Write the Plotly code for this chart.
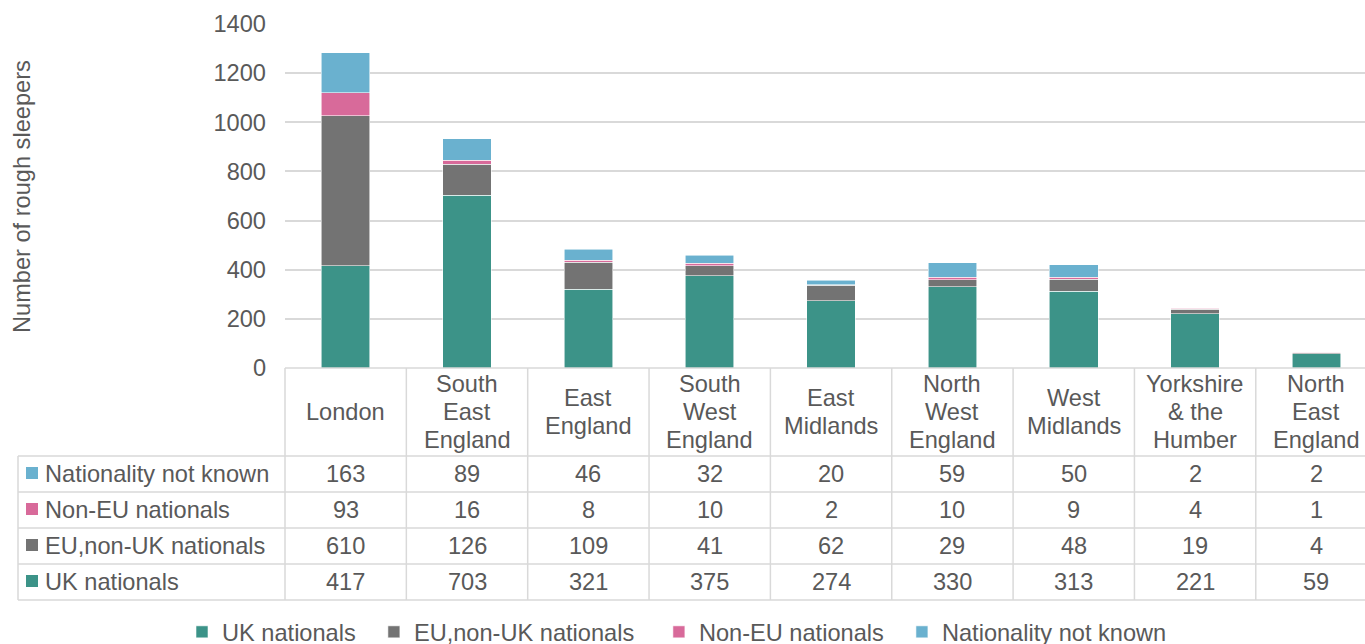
import plotly.graph_objects as go

# ---------------- data ----------------
regions = ["London", "South<br>East<br>England", "East<br>England", "South<br>West<br>England",
           "East<br>Midlands", "North<br>West<br>England", "West<br>Midlands",
           "Yorkshire<br>& the<br>Humber", "North<br>East<br>England"]
uk_nationals = [417, 703, 321, 375, 274, 330, 313, 221, 59]
eu_non_uk = [610, 126, 109, 41, 62, 29, 48, 19, 4]
non_eu = [93, 16, 8, 10, 2, 10, 9, 4, 1]
not_known = [163, 89, 46, 32, 20, 59, 50, 2, 2]
series_names = ["UK nationals", "EU,non-UK nationals", "Non-EU nationals", "Nationality not known"]
y_ticks = [0, 200, 400, 600, 800, 1000, 1200, 1400]

series_values = [uk_nationals, eu_non_uk, non_eu, not_known]
colors = ["#3C9388", "#737373", "#D86A9A", "#6AB1CF"]

# ---------------- layout geometry ----------------
W, H = 1365, 644
MT, MB = 24, 0
PLOT_L, PLOT_B = 285, 368
X_RANGE = [-0.5, 8.4]
TEXT = "#595959"
GRID = "#D9D9D9"
FONT = "Liberation Sans, Arial, sans-serif"
FS = 23.6
LINE_H = 28


def fy(p):
    return (H - p) / (H - MT)


def fx(p):
    return p / W


def col_px(v):
    return PLOT_L + (v - X_RANGE[0]) / (X_RANGE[1] - X_RANGE[0]) * (W - PLOT_L)


fig = go.Figure()
idx = list(range(len(regions)))
pads = ["\u00a0\u00a0", "\u00a0\u00a0\u00a0", "\u00a0\u00a0", ""]
for name, vals, c, pad in zip(series_names, series_values, colors, pads):
    fig.add_trace(go.Bar(
        x=idx, y=vals, name=name + pad, width=0.4,
        marker=dict(color=c, line=dict(color="rgba(255,255,255,0.7)", width=0.8)),
    ))

shapes = []
annotations = []

# table geometry
header_top, header_bot = 368, 456
row_edges = [456, 492, 528, 564, 600]
left_edge = 18

# horizontal lines
shapes.append(dict(type="line", xref="paper", yref="paper", x0=fx(PLOT_L), x1=1,
                   y0=fy(header_top), y1=fy(header_top), line=dict(color=GRID, width=1.5)))
for r in row_edges:
    shapes.append(dict(type="line", xref="paper", yref="paper", x0=fx(left_edge), x1=1,
                       y0=fy(r), y1=fy(r), line=dict(color=GRID, width=1.5)))
# vertical lines
shapes.append(dict(type="line", xref="paper", yref="paper", x0=fx(left_edge), x1=fx(left_edge),
                   y0=fy(row_edges[0]), y1=fy(row_edges[-1]), line=dict(color=GRID, width=1.5)))
for k in range(len(regions) + 1):
    px = col_px(k - 0.5)
    if px > W:
        continue
    shapes.append(dict(type="line", xref="paper", yref="paper", x0=fx(px), x1=fx(px),
                       y0=fy(header_top), y1=fy(row_edges[-1]), line=dict(color=GRID, width=1.5)))

# header labels (one annotation per line for Excel-like line spacing)
hc = (header_top + header_bot) / 2
for i, reg in enumerate(regions):
    lines = reg.split("<br>")
    n = len(lines)
    for j, ln in enumerate(lines):
        cy = hc + (j - (n - 1) / 2) * LINE_H
        annotations.append(dict(x=i, xref="x", y=fy(cy), yref="paper",
                                text=ln, showarrow=False, xanchor="center", yanchor="middle",
                                font=dict(size=FS, color=TEXT, family=FONT)))

# rows (top to bottom: reversed series order)
order = list(range(len(series_names)))[::-1]
for ri, si in enumerate(order):
    top, bot = row_edges[ri], row_edges[ri + 1]
    cy = (top + bot) / 2
    shapes.append(dict(type="rect", xref="paper", yref="paper",
                       x0=fx(26), x1=fx(38), y0=fy(cy - 7), y1=fy(cy + 5),
                       fillcolor=colors[si], line=dict(width=0)))
    annotations.append(dict(x=fx(43), xref="paper", y=fy(cy), yref="paper",
                            text=series_names[si], showarrow=False, xanchor="left", yanchor="middle",
                            font=dict(size=FS, color=TEXT, family=FONT)))
    for i, v in enumerate(series_values[si]):
        annotations.append(dict(x=i, xref="x", y=fy(cy), yref="paper",
                                text=str(v), showarrow=False, xanchor="center", yanchor="middle",
                                font=dict(size=FS, color=TEXT, family=FONT)))

# y-axis title
annotations.append(dict(x=fx(22), xref="paper", y=fy(197), yref="paper",
                        text="Number of rough sleepers", textangle=-90, showarrow=False,
                        xanchor="center", yanchor="middle",
                        font=dict(size=FS, color=TEXT, family=FONT)))

fig.update_layout(
    width=W, height=H,
    margin=dict(l=0, r=0, t=MT, b=MB, autoexpand=False),
    paper_bgcolor="white", plot_bgcolor="white",
    barmode="stack",
    font=dict(family=FONT, size=FS, color=TEXT),
    showlegend=True,
    legend=dict(orientation="h", x=fx(182), xanchor="left", y=fy(632), yanchor="middle",
                font=dict(size=FS, color=TEXT, family=FONT), traceorder="normal",
                bgcolor="rgba(0,0,0,0)", itemwidth=30),
    xaxis=dict(domain=[fx(PLOT_L), 1], range=X_RANGE, showticklabels=False, showgrid=False,
               zeroline=False, showline=False, ticks=""),
    yaxis=dict(domain=[fy(PLOT_B), 1], range=[0, 1400], tickvals=y_ticks,
               showgrid=True, gridcolor=GRID, gridwidth=1.5, zeroline=False, showline=False,
               ticks="", ticklabelstandoff=18,
               tickfont=dict(size=FS, color=TEXT, family=FONT)),
    shapes=shapes,
    annotations=annotations,
)

fig.write_html("out.html", config={"displayModeBar": False},
               post_script="document.body.style.margin='0';document.body.style.overflow='hidden';")
